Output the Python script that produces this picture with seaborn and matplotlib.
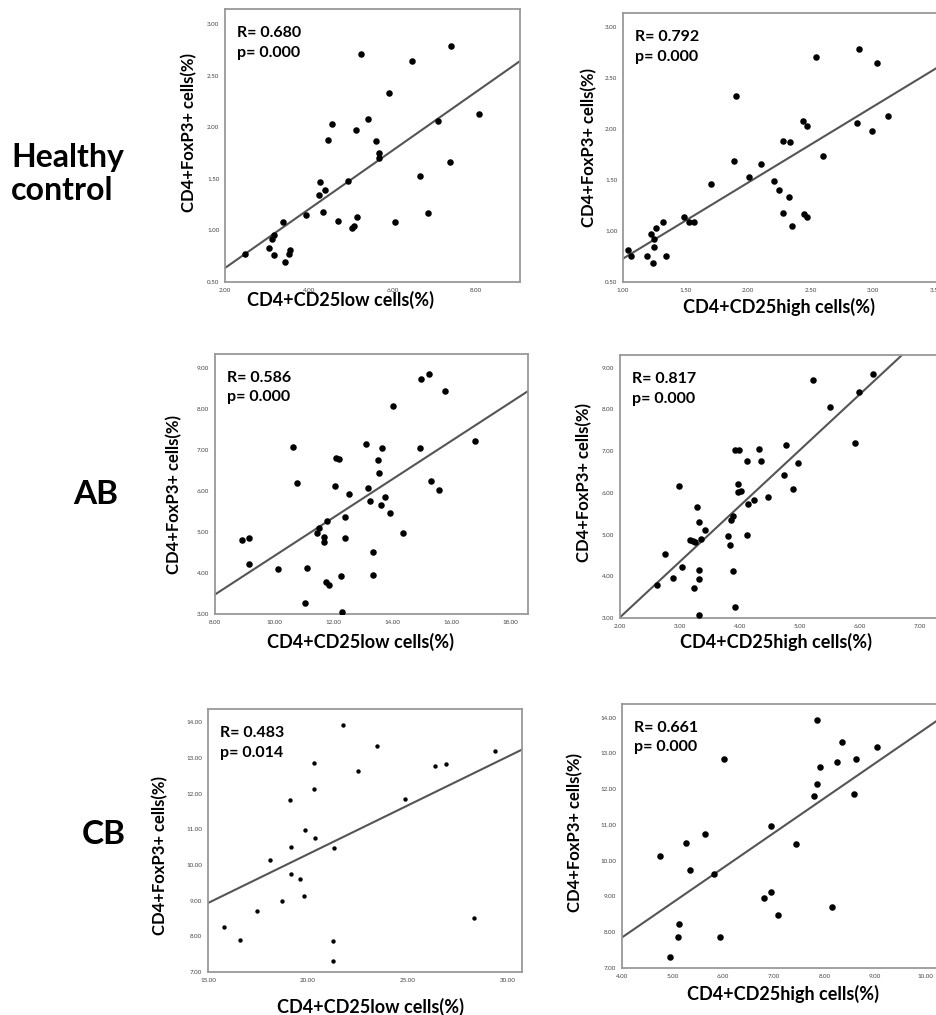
import pandas as pd
import seaborn as sns
import matplotlib.pyplot as plt

# Healthy control: CD4+CD25low vs CD4+FoxP3+
hc_low_x = [2.47, 3.05, 3.12, 3.16, 3.16, 3.38, 3.44, 3.52, 3.56, 3.94, 4.24, 4.28,
            4.34, 4.39, 4.47, 4.56, 4.69, 4.94, 5.04, 5.09, 5.12, 5.16, 5.24, 5.41,
            5.60, 5.69, 5.69, 5.92, 6.07, 6.47, 6.66, 6.86, 7.10, 7.39, 7.38, 8.06]
hc_low_y = [0.77, 0.83, 0.92, 0.96, 0.76, 1.08, 0.69, 0.77, 0.81, 1.15, 1.34, 1.47,
            1.18, 1.39, 1.88, 2.03, 1.09, 1.48, 1.02, 1.04, 1.98, 1.13, 2.71, 2.08,
            1.87, 1.75, 1.70, 2.33, 1.08, 2.65, 1.53, 1.17, 2.06, 2.79, 1.66, 2.13]

# Healthy control: CD4+CD25high vs CD4+FoxP3+
hc_high_x = [1.04, 1.06, 1.19, 1.22, 1.24, 1.25, 1.26, 1.25, 1.32, 1.34, 1.49, 1.53,
             1.57, 1.70, 1.89, 1.90, 2.01, 2.10, 2.21, 2.25, 2.28, 2.28, 2.33, 2.34,
             2.35, 2.44, 2.47, 2.45, 2.47, 2.54, 2.60, 2.87, 2.89, 2.99, 3.03, 3.12]
hc_high_y = [0.81, 0.76, 0.76, 0.97, 0.69, 0.92, 1.03, 0.84, 1.09, 0.76, 1.14, 1.09,
             1.09, 1.46, 1.69, 2.33, 1.53, 1.66, 1.49, 1.40, 1.88, 1.18, 1.33, 1.87,
             1.05, 2.08, 2.03, 1.17, 1.14, 2.71, 1.74, 2.06, 2.79, 1.98, 2.65, 2.13]

# AB: CD4+CD25low vs CD4+FoxP3+
ab_low_x = [8.90, 9.15, 9.14, 10.12, 10.64, 10.76, 11.05, 11.11, 11.46, 11.52, 11.68,
            11.70, 11.77, 11.75, 11.84, 12.05, 12.08, 12.20, 12.25, 12.30, 12.38, 12.41,
            12.52, 13.09, 13.16, 13.25, 13.35, 13.35, 13.52, 13.55, 13.61, 13.63, 13.76,
            13.93, 14.00, 14.37, 14.93, 14.95, 15.25, 15.31, 15.57, 15.79, 16.78]
ab_low_y = [4.80, 4.86, 4.21, 4.10, 7.07, 6.18, 3.26, 4.11, 4.96, 5.09, 4.88,
            4.75, 5.27, 3.78, 3.70, 6.11, 6.79, 6.77, 3.93, 3.05, 5.36, 4.86,
            5.92, 7.15, 6.06, 5.75, 4.51, 3.94, 6.74, 6.43, 5.65, 7.04, 5.84,
            5.45, 8.07, 4.98, 7.04, 8.72, 8.85, 6.23, 6.03, 8.44, 7.21]

# AB: CD4+CD25high vs CD4+FoxP3+
ab_high_x = [2.61, 2.75, 2.89, 3.03, 2.99, 3.24, 3.28, 3.31, 3.31, 3.32, 3.32,
             3.17, 3.22, 3.25, 3.35, 3.41, 3.80, 3.84, 3.85, 3.88, 3.88, 3.91,
             3.92, 3.99, 3.96, 3.97, 4.02, 4.11, 4.12, 4.14, 4.24, 4.32, 4.35,
             4.46, 4.73, 4.77, 4.89, 4.97, 5.21, 5.50, 5.91, 5.98, 6.22]
ab_high_y = [3.78, 4.53, 3.96, 4.22, 6.17, 3.72, 5.66, 4.14, 3.94, 3.06, 5.29,
             4.88, 4.85, 4.81, 4.90, 5.10, 4.96, 4.75, 5.34, 5.45, 4.13, 3.26,
             7.02, 7.02, 6.22, 6.02, 6.05, 4.98, 6.77, 5.74, 5.82, 7.05, 6.76,
             5.90, 6.42, 7.14, 6.10, 6.72, 8.70, 8.06, 7.20, 8.42, 8.85]

# CB: CD4+CD25low vs CD4+FoxP3+
cb_low_x = [15.82, 16.62, 17.43, 18.08, 18.72, 19.12, 19.15, 19.17, 19.60, 19.78,
            19.83, 20.28, 20.32, 20.37, 21.23, 21.27, 21.32, 21.75, 22.52, 23.47,
            24.87, 26.33, 26.88, 28.30, 29.35]
cb_low_y = [8.25, 7.89, 8.72, 10.13, 8.98, 11.82, 10.50, 9.76, 9.62, 9.13,
            10.97, 12.14, 12.86, 10.76, 7.32, 7.87, 10.47, 13.93, 12.62, 13.32,
            11.86, 12.76, 12.84, 8.50, 13.18]

# CB: CD4+CD25high vs CD4+FoxP3+
cb_high_x = [4.76, 4.95, 5.10, 5.12, 5.27, 5.34, 5.64, 5.81, 5.94, 6.01,
             6.80, 6.94, 6.95, 7.09, 7.44, 7.79, 7.85, 7.86, 7.91, 8.14,
             8.24, 8.34, 8.59, 8.62, 9.04]
cb_high_y = [10.12, 7.30, 7.88, 8.23, 10.50, 9.75, 10.75, 9.62, 7.86, 12.85,
             8.97, 9.12, 10.97, 8.48, 10.46, 11.82, 13.93, 12.14, 12.62, 8.70,
             12.76, 13.31, 11.86, 12.84, 13.17]

r_values = ["0.680", "0.792", "0.586", "0.817", "0.483", "0.661"]
p_values = ["0.000", "0.000", "0.000", "0.000", "0.014", "0.000"]
row_labels = ["Healthy\ncontrol", "AB", "CB"]
xlabels = ["CD4+CD25low cells(%)", "CD4+CD25high cells(%)"] * 3
ylabel = "CD4+FoxP3+ cells(%)"

xticks = [[2, 4, 6, 8], [1.0, 1.5, 2.0, 2.5, 3.0, 3.5],
          [8, 10, 12, 14, 16, 18], [2, 3, 4, 5, 6, 7],
          [15, 20, 25, 30], [4, 5, 6, 7, 8, 9, 10]]
yticks = [[0.5, 1.0, 1.5, 2.0, 2.5, 3.0], [0.5, 1.0, 1.5, 2.0, 2.5, 3.0],
          [3, 4, 5, 6, 7, 8, 9], [3, 4, 5, 6, 7, 8, 9],
          [7, 8, 9, 10, 11, 12, 13, 14], [7, 8, 9, 10, 11, 12, 13, 14]]

panels = [
    (hc_low_x, hc_low_y), (hc_high_x, hc_high_y),
    (ab_low_x, ab_low_y), (ab_high_x, ab_high_y),
    (cb_low_x, cb_low_y), (cb_high_x, cb_high_y),
]

sns.set_style("white")
plt.rcParams["font.family"] = ["Lato", "DejaVu Sans"]
plt.rcParams["text.color"] = "black"
plt.rcParams["axes.labelcolor"] = "black"

W, H = 937, 1015
fig = plt.figure(figsize=(W / 100, H / 100), dpi=100)

# pixel boxes (left, top, right, bottom) and axis limits
boxes = [(225, 9, 520, 282), (623, 13, 948, 282),
         (215, 354, 528, 614), (620, 355, 950, 618),
         (208, 709, 522, 972), (622, 704, 951, 968)]
xlims = [(2, 9.05), (1.0, 3.6), (8, 18.58), (2, 7.5), (15, 30.7), (4, 10.5)]
ylims = [(0.5, 3.15), (0.5, 3.14), (3, 9.33), (3, 9.3), (7, 14.37), (7, 14.38)]
dot_sizes = [22, 22, 22, 22, 10, 22]
ylab_gap = [28, 26, 33, 28, 40, 39]
ylab_pos = [0.546, 0.50, 0.458, 0.516, 0.444, 0.515]
xlab_gap = [9, 16, 19, 15, 26, 17]
xlab_pos = [0.39, 0.48, 0.466, 0.472, 0.519, 0.49]

for i, (xs, ys) in enumerate(panels):
    l, t, r, b = boxes[i]
    ax = fig.add_axes([l / W, 1 - b / H, (r - l) / W, (b - t) / H])
    df = pd.DataFrame({"x": xs, "y": ys})
    ax.set_xlim(*xlims[i])
    ax.set_ylim(*ylims[i])
    sns.regplot(data=df, x="x", y="y", ax=ax, scatter=False, ci=None,
                truncate=False, line_kws={"color": "#555555", "lw": 1.5})
    sns.scatterplot(data=df, x="x", y="y", ax=ax, color="black",
                    s=dot_sizes[i], linewidth=0, zorder=3)
    ax.set_xlim(*xlims[i])
    ax.set_ylim(*ylims[i])
    ax.set_xticks(xticks[i])
    ax.set_yticks(yticks[i])
    ax.set_xticklabels([f"{v:.2f}" for v in xticks[i]])
    ax.set_yticklabels([f"{v:.2f}" for v in yticks[i]])
    ax.tick_params(axis="both", labelsize=4.5, colors="#555555", length=3,
                   width=0.8, pad=1, direction="out")
    ax.tick_params(axis="both", labelcolor="#444444")
    for sp in ax.spines.values():
        sp.set_color("#999999")
        sp.set_linewidth(1.3)
    ax.set_xlabel(xlabels[i], fontsize=13, fontweight="bold")
    ax.set_ylabel(ylabel, fontsize=12, fontweight="bold")
    ax.xaxis.set_label_coords(xlab_pos[i], -xlab_gap[i] / (b - t))
    ax.yaxis.set_label_coords(-ylab_gap[i] / (r - l), ylab_pos[i])
    ax.annotate(f"R= {r_values[i]}\np= {p_values[i]}", xy=(0, 1),
                xycoords="axes fraction", xytext=(12, -17),
                textcoords="offset pixels", ha="left", va="top",
                fontsize=11.5, fontweight="bold", linespacing=1.5)

# row labels
fig.text(11 / W, 1 - 174 / H, row_labels[0], ha="left", va="center",
         fontsize=23, fontweight="bold", linespacing=1.15)
fig.text(96 / W, 1 - 494 / H, row_labels[1], ha="center", va="center",
         fontsize=24, fontweight="bold")
fig.text(104 / W, 1 - 835 / H, row_labels[2], ha="center", va="center",
         fontsize=24, fontweight="bold")

fig.savefig("out.png", dpi=100)
